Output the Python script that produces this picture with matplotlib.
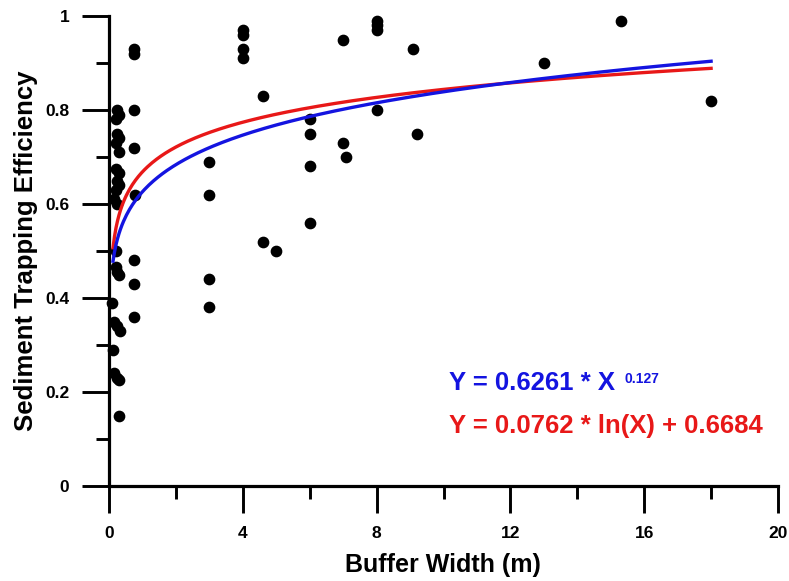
import numpy as np
import matplotlib
matplotlib.use("Agg")
from matplotlib import pyplot as plt
from matplotlib.ticker import MultipleLocator, FuncFormatter

# buffer width (m) and trapping efficiency
width_cluster = [0.25, 0.3, 0.2, 0.25, 0.3, 0.2, 0.3, 0.2, 0.3, 0.25, 0.3, 0.2,
                 0.15, 0.25, 0.2, 0.2, 0.25, 0.3, 0.1, 0.15, 0.23, 0.33, 0.12,
                 0.15, 0.25, 0.3, 0.3]
eff_cluster = [0.80, 0.79, 0.78, 0.75, 0.74, 0.73, 0.71, 0.675, 0.665, 0.65,
               0.64, 0.63, 0.61, 0.60, 0.50, 0.465, 0.455, 0.45, 0.39, 0.35,
               0.34, 0.33, 0.29, 0.24, 0.23, 0.225, 0.15]

width_075 = [0.75, 0.75, 0.75, 0.75, 0.78, 0.75, 0.75, 0.75]
eff_075 = [0.93, 0.92, 0.80, 0.72, 0.62, 0.48, 0.43, 0.36]

width_wide = [3, 3, 3, 3, 4, 4, 4, 4, 4.6, 4.6, 5.0, 6, 6, 6, 6, 7, 7, 7.1,
              8, 8, 8, 8, 9.1, 9.2, 13, 15.3, 18]
eff_wide = [0.69, 0.62, 0.44, 0.38, 0.97, 0.96, 0.93, 0.91, 0.83, 0.52, 0.50,
            0.78, 0.75, 0.68, 0.56, 0.95, 0.73, 0.70, 0.99, 0.98, 0.97, 0.80,
            0.93, 0.75, 0.90, 0.99, 0.82]

# fitted models shown on the chart
pow_a, pow_b = 0.6261, 0.127
log_a, log_b = 0.0762, 0.6684
fit_start, fit_end = 0.12, 18

plt.rcParams['font.family'] = ['Liberation Sans', 'DejaVu Sans']
plt.rcParams['font.weight'] = 'bold'

fig = plt.figure(figsize=(7.89, 5.81), dpi=100)
ax = fig.add_axes([109 / 789, 1 - 486 / 581, 669 / 789, 470 / 581])

xs = np.concatenate([width_cluster, width_075, width_wide])
ys = np.concatenate([eff_cluster, eff_075, eff_wide])
ax.scatter(xs, ys, s=55, color='black', zorder=3, clip_on=False)

xf = np.linspace(fit_start, fit_end, 400)
ax.plot(xf, log_a * np.log(xf) + log_b, color='#e81818', lw=2.4, zorder=4)
ax.plot(xf, pow_a * xf ** pow_b, color='#1414e0', lw=2.4, zorder=5)

ax.set_xlim(0, 20)
ax.set_ylim(0, 1)
ax.xaxis.set_major_locator(MultipleLocator(4))
ax.xaxis.set_minor_locator(MultipleLocator(2))
ax.yaxis.set_major_locator(MultipleLocator(0.2))
ax.yaxis.set_minor_locator(MultipleLocator(0.1))
ax.yaxis.set_major_formatter(FuncFormatter(lambda v, p: '%g' % round(v, 2)))

for s in ['top', 'right']:
    ax.spines[s].set_visible(False)
for s in ['left', 'bottom']:
    ax.spines[s].set_linewidth(2.3)

ax.tick_params(which='major', direction='out', length=19.5, width=2.1,
               labelsize=12.5, pad=9)
ax.tick_params(which='minor', direction='out', length=9.5, width=2.1)

ax.text(10.15, 0.204, 'Y = 0.6261 * X', color='#1414e0', fontsize=18.5,
        fontweight='bold', va='baseline')
ax.text(15.4, 0.219, '0.127', color='#1414e0', fontsize=10,
        fontweight='bold', va='baseline')
ax.text(10.15, 0.113, 'Y = 0.0762 * ln(X) + 0.6684', color='#e81818',
        fontsize=18.5, fontweight='bold', va='baseline')

fig.text(443 / 789, 1 - 565 / 581, 'Buffer Width (m)', ha='center',
         va='center', fontsize=18, fontweight='bold')
fig.text(26 / 789, 1 - 251 / 581, 'Sediment Trapping Efficiency',
         ha='center', va='center', rotation=90, fontsize=18.5,
         fontweight='bold')

fig.savefig('out.png', dpi=100)
